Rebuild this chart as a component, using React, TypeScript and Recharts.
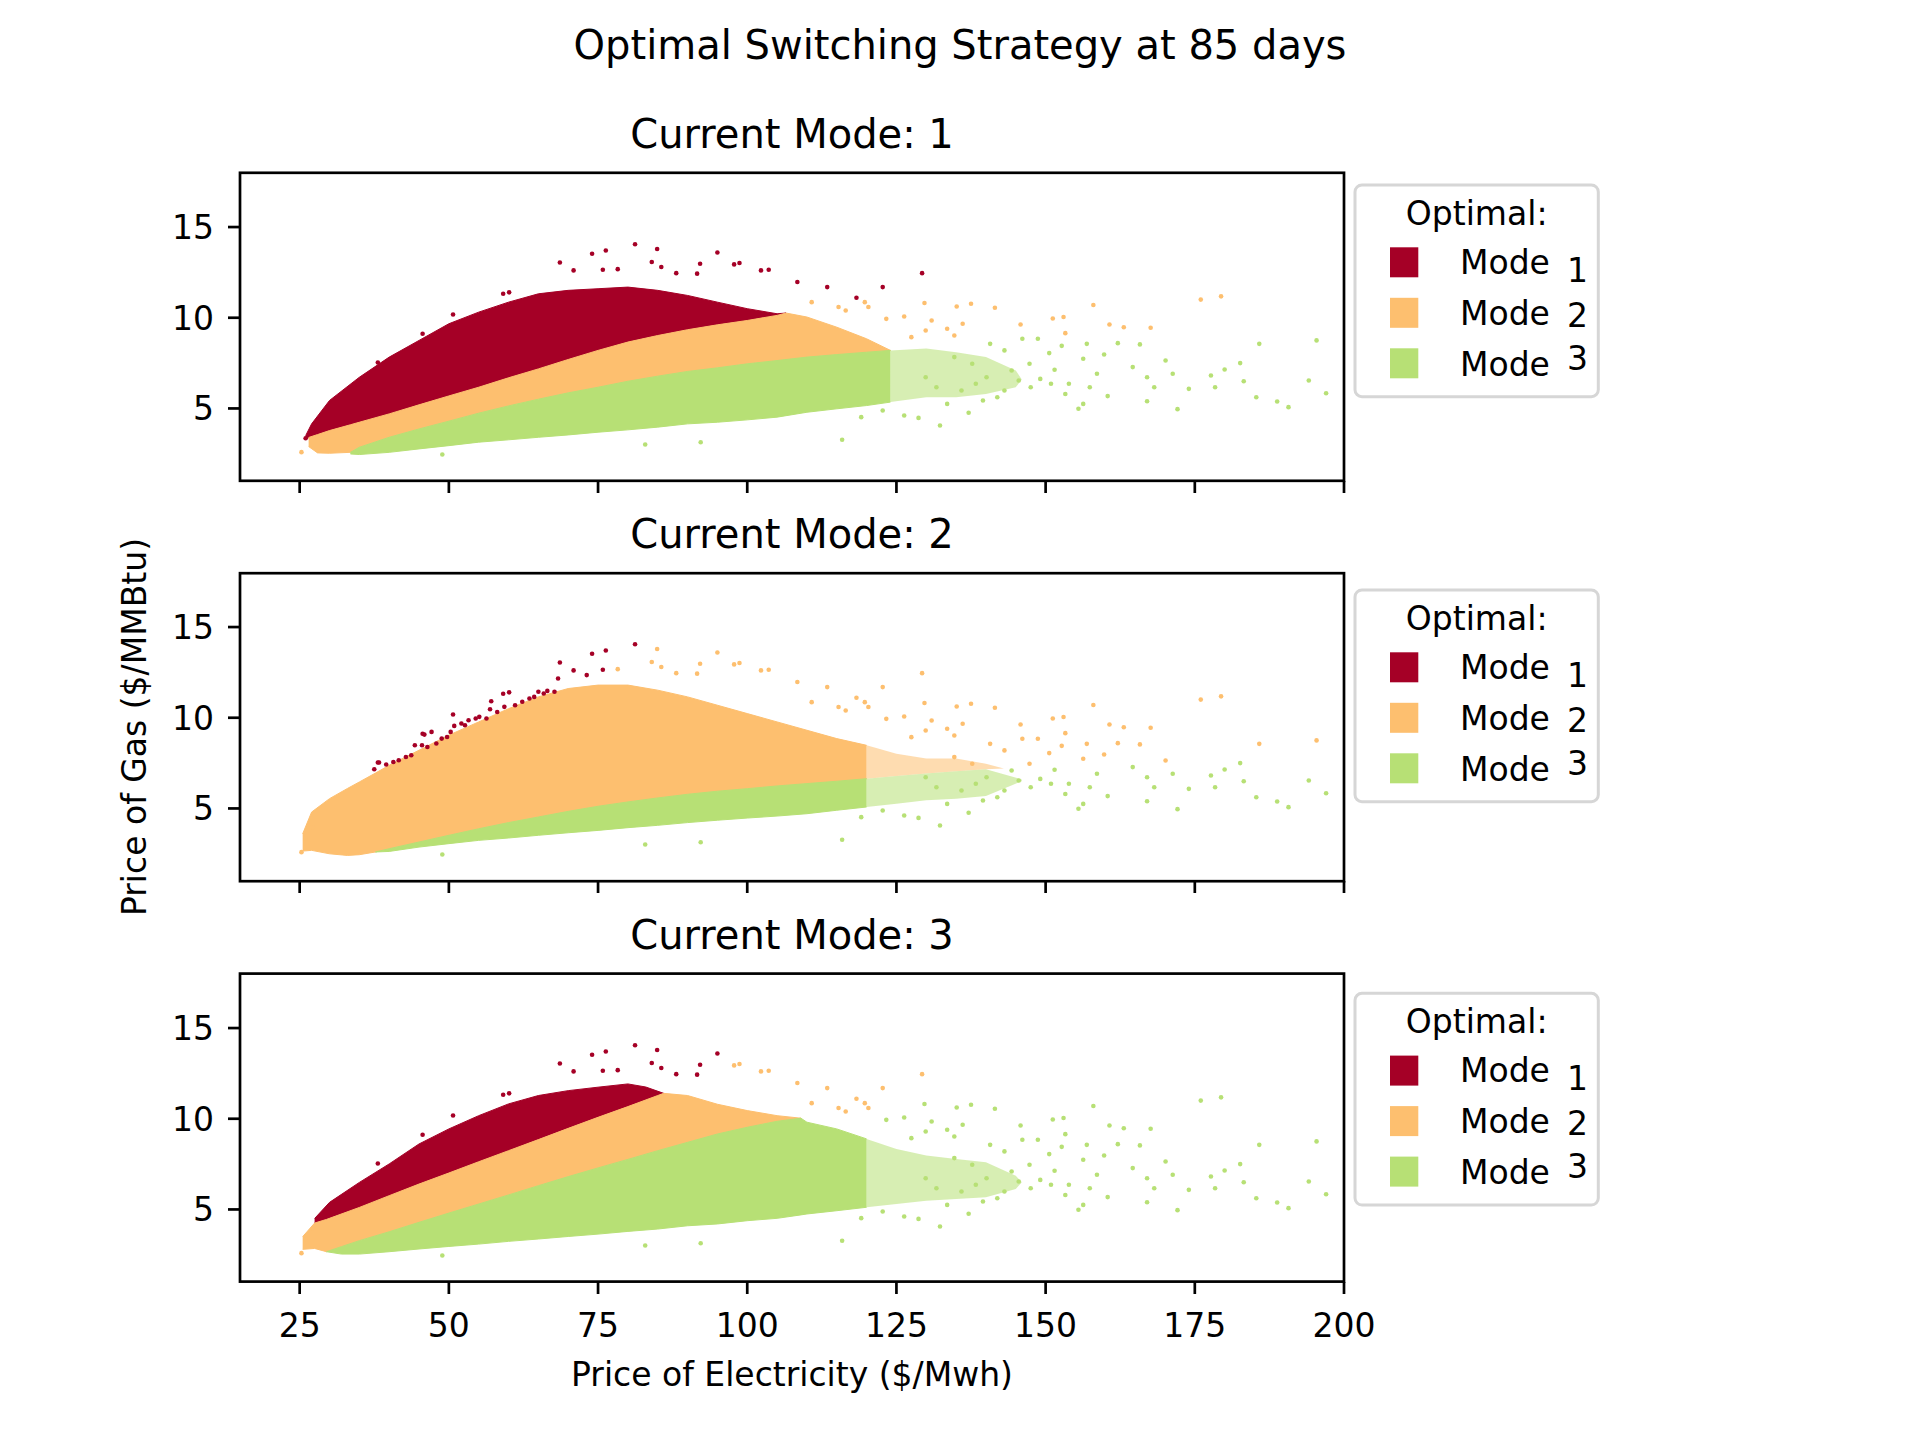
import React from 'react';
import { ComposedChart, Area, Scatter, XAxis, YAxis } from 'recharts';

const FONT = '"DejaVu Sans", "Liberation Sans", sans-serif';

// ---------- labels / ticks ----------
const SUPTITLE = 'Optimal Switching Strategy at 85 days';
const PANEL_TITLES = ['Current Mode: 1', 'Current Mode: 2', 'Current Mode: 3'];
const X_LABEL = 'Price of Electricity ($/Mwh)';
const Y_LABEL = 'Price of Gas ($/MMBtu)';
const LEGEND_TITLE = 'Optimal:';
const MODE_WORD = 'Mode';
const MODE_NUMS = ['1', '2', '3'];
const MODE_COLORS = ['#a50026', '#fdbf6f', '#b7e075'];
const X_TICKS = [25, 50, 75, 100, 125, 150, 175, 200];
const Y_TICKS = [5, 10, 15];
const X_DOMAIN = [15, 200];
const Y_DOMAIN = [1.0, 17.98];

// ---------- dense regions: [x, low, high] (price of electricity, gas low, gas high) ----------
const P1_RED = [
  [26, 3.32, 3.5], [27, 3.45, 4.15], [30, 3.78, 5.44], [35, 4.24, 6.72], [40, 4.7, 7.83],
  [45, 5.2, 8.75], [50, 5.69, 9.67], [55, 6.17, 10.31], [60, 6.69, 10.86], [65, 7.18, 11.32],
  [70, 7.7, 11.51], [75, 8.2, 11.6], [80, 8.66, 11.69], [85, 9.02, 11.51], [90, 9.34, 11.23],
  [95, 9.61, 10.86], [100, 9.85, 10.5], [105, 10.13, 10.22], [106.5, 10.26, 10.26],
];
const P1_ORANGE = [
  [26.5, 2.9, 3.4], [28, 2.55, 3.56], [30, 2.53, 3.78], [33.5, 2.58, 4.1], [35, 2.86, 4.24],
  [40, 3.41, 4.7], [45, 3.87, 5.2], [50, 4.3, 5.69], [55, 4.74, 6.17], [60, 5.14, 6.69],
  [65, 5.51, 7.18], [70, 5.86, 7.7], [75, 6.17, 8.2], [80, 6.5, 8.66], [85, 6.78, 9.02],
  [90, 7.04, 9.34], [95, 7.24, 9.61], [100, 7.46, 9.85], [105, 7.64, 10.13], [106.5, 7.7, 10.26],
  [110, 7.83, 10.04], [115, 7.97, 9.48], [120, 8.1, 8.84], [124, 8.2, 8.2],
];
const P1_GREEN = [
  [33.5, 2.49, 2.58], [35, 2.46, 2.86], [40, 2.58, 3.41], [45, 2.77, 3.87], [50, 2.95, 4.3],
  [55, 3.14, 4.74], [60, 3.27, 5.14], [65, 3.41, 5.51], [70, 3.54, 5.86], [75, 3.69, 6.17],
  [80, 3.82, 6.5], [85, 3.97, 6.78], [90, 4.15, 7.04], [95, 4.24, 7.24], [100, 4.37, 7.46],
  [105, 4.52, 7.64], [110, 4.79, 7.83], [115, 4.98, 7.97], [120, 5.16, 8.1], [124, 5.35, 8.2],
];
const P1_GREEN_TAIL = [
  [124, 5.35, 8.2], [130, 5.62, 8.3], [135, 5.62, 8.1], [140, 5.8, 7.83], [145, 6.17, 7.09], [146, 6.6, 6.6],
];

const P2_ORANGE = [
  [25.5, 2.65, 3.6], [27, 2.69, 4.8], [30, 2.5, 5.54], [33, 2.41, 6.1], [35, 2.45, 6.46],
  [37.7, 2.6, 6.95], [40, 2.78, 7.38], [45, 3.15, 8.21], [50, 3.52, 9.04], [55, 3.88, 9.77],
  [60, 4.22, 10.5], [65, 4.53, 11.15], [70, 4.84, 11.61], [75, 5.12, 11.8], [80, 5.36, 11.8],
  [85, 5.58, 11.52], [90, 5.78, 11.15], [95, 5.95, 10.69], [100, 6.09, 10.23], [105, 6.24, 9.77],
  [110, 6.37, 9.31], [115, 6.5, 8.85], [120, 6.64, 8.48],
];
const P2_ORANGE_TAIL = [
  [120, 6.64, 8.48], [125, 6.79, 8.02], [130, 6.92, 7.75], [135, 7.05, 7.75], [140, 7.16, 7.47], [143, 7.2, 7.2],
];
const P2_GREEN = [
  [37.7, 2.6, 2.6], [40, 2.63, 2.78], [45, 2.87, 3.15], [50, 3.06, 3.52], [55, 3.24, 3.88],
  [60, 3.37, 4.22], [65, 3.52, 4.53], [70, 3.66, 4.84], [75, 3.79, 5.12], [80, 3.94, 5.36],
  [85, 4.07, 5.58], [90, 4.22, 5.78], [95, 4.35, 5.95], [100, 4.47, 6.09], [105, 4.58, 6.24],
  [110, 4.71, 6.37], [115, 4.9, 6.5], [120, 5.08, 6.64],
];
const P2_GREEN_TAIL = [
  [120, 5.08, 6.64], [125, 5.26, 6.79], [130, 5.45, 6.92], [135, 5.54, 7.05], [140, 5.69, 7.16], [146, 6.5, 6.6],
];
const P2_RED_EDGE = [
  [37.5, 7.16], [38.3, 7.53], [39.5, 7.42], [40.7, 7.56], [41.6, 7.66], [42.8, 7.84], [43.7, 7.93],
  [44.3, 8.48], [45.5, 8.48], [45.9, 9.07], [46.4, 8.39], [47.1, 9.22], [47.9, 8.58], [48.8, 8.85],
  [49.7, 8.94], [50.3, 9.22], [50.9, 9.55], [52.1, 9.68], [52.7, 9.59], [53.3, 9.86], [54.5, 9.96],
  [55.1, 10.05], [56.3, 9.96], [56.9, 10.47], [57.1, 10.91], [58.1, 10.32], [59.3, 10.6], [61.1, 10.69],
  [62.3, 10.88], [63.5, 11.06], [64.3, 11.15], [65.0, 11.43], [65.9, 11.34], [66.5, 11.48], [67.7, 11.43],
  [68.3, 12.16], [73.1, 12.35],
];

const P3_RED = [
  [27.5, 4.25, 4.5], [30, 4.51, 5.39], [35, 5.11, 6.49], [40, 5.76, 7.51], [45, 6.4, 8.61],
  [50, 7.01, 9.44], [55, 7.63, 10.17], [60, 8.24, 10.82], [65, 8.85, 11.28], [70, 9.47, 11.55],
  [75, 10.08, 11.74], [80, 10.67, 11.92], [83, 11.0, 11.75], [86, 11.4, 11.4],
];
const P3_ORANGE = [
  [25.5, 2.8, 3.5], [27.5, 2.85, 4.25], [29.5, 2.67, 4.45], [30, 2.72, 4.51], [35, 3.28, 5.11],
  [40, 3.77, 5.76], [45, 4.29, 6.4], [50, 4.8, 7.01], [55, 5.3, 7.63], [60, 5.8, 8.24],
  [65, 6.31, 8.85], [70, 6.81, 9.47], [75, 7.29, 10.08], [80, 7.76, 10.67], [85, 8.24, 11.28],
  [86, 8.33, 11.4], [90, 8.7, 11.28], [95, 9.16, 10.8], [100, 9.53, 10.45], [105, 9.86, 10.17],
  [109, 10.03, 10.03],
];
const P3_GREEN = [
  [29.5, 2.67, 2.67], [32, 2.54, 2.95], [35, 2.54, 3.28], [40, 2.67, 3.77], [45, 2.82, 4.29],
  [50, 2.96, 4.8], [55, 3.09, 5.3], [60, 3.24, 5.8], [65, 3.37, 6.31], [70, 3.51, 6.81],
  [75, 3.64, 7.29], [80, 3.79, 7.76], [85, 3.92, 8.24], [90, 4.1, 8.7], [95, 4.2, 9.16],
  [100, 4.38, 9.53], [105, 4.51, 9.86], [109, 4.7, 10.03], [110, 4.75, 9.81], [115, 4.93, 9.44],
  [120, 5.12, 8.89],
];
const P3_GREEN_TAIL = [
  [120, 5.12, 8.89], [125, 5.3, 8.33], [130, 5.48, 7.97], [135, 5.57, 7.78], [140, 5.67, 7.6],
  [145, 6.13, 6.86], [146, 6.5, 6.5],
];

// ---------- sparse points shared by all panels: [x, y, optimal mode in panel 1, 2, 3] ----------
const OUTLIERS = [
  [81.2, 14.05, 1, 1, 1], [74.0, 13.53, 1, 1, 1], [76.3, 13.71, 1, 1, 1], [84.9, 13.79, 1, 2, 1],
  [95.0, 13.6, 1, 2, 1], [68.6, 13.05, 1, 1, 1], [129.3, 12.46, 1, 2, 2], [122.7, 11.69, 1, 2, 2],
  [98.7, 13.02, 1, 2, 2], [103.6, 12.65, 1, 2, 2], [102.3, 12.61, 1, 2, 2], [113.4, 11.69, 1, 2, 2],
  [118.3, 11.1, 1, 2, 2], [108.4, 11.97, 1, 2, 2], [84.0, 13.07, 1, 2, 1], [92.1, 12.98, 1, 2, 1],
  [78.3, 12.68, 1, 2, 1], [50.7, 10.18, 1, 1, 1], [60.1, 11.4, 1, 1, 1], [45.6, 9.12, 1, 1, 1],
  [38.1, 7.53, 1, 1, 1], [85.6, 12.8, 1, 2, 1], [70.9, 12.61, 1, 1, 1], [75.8, 12.65, 1, 1, 1],
  [59.1, 11.32, 1, 1, 1], [97.8, 12.94, 1, 2, 2], [88.1, 12.46, 1, 2, 1], [91.6, 12.43, 1, 2, 1],
  [27.2, 3.96, 1, 2, 2], [26.0, 3.36, 1, 2, 2],
  [179.4, 11.18, 2, 2, 3], [176.0, 11.0, 2, 2, 3], [158.0, 10.7, 2, 2, 3], [137.5, 10.77, 2, 2, 3],
  [141.5, 10.55, 2, 2, 3], [129.7, 10.81, 2, 2, 3], [135.1, 10.62, 2, 2, 3], [151.2, 9.96, 2, 2, 3],
  [153.0, 10.04, 2, 2, 3], [153.3, 9.15, 2, 2, 3], [160.7, 9.63, 2, 2, 3], [163.1, 9.48, 2, 2, 3],
  [167.6, 9.45, 2, 2, 3], [145.8, 9.63, 2, 2, 3], [136.1, 9.67, 2, 2, 3], [130.9, 9.85, 2, 2, 3],
  [126.3, 10.07, 2, 2, 3], [120.3, 10.59, 2, 2, 2], [115.3, 10.59, 2, 2, 2], [123.3, 9.94, 2, 2, 3],
  [134.7, 9.02, 2, 2, 3], [25.3, 2.59, 2, 2, 2], [129.9, 9.3, 2, 2, 3], [127.5, 8.93, 2, 2, 3],
  [119.7, 10.86, 2, 2, 2], [110.8, 10.86, 2, 2, 2], [116.5, 10.4, 2, 2, 2], [133.5, 9.39, 2, 2, 3],
  [195.4, 8.75, 3, 2, 3], [197.0, 5.84, 3, 3, 3], [194.1, 6.54, 3, 3, 3], [190.7, 5.07, 3, 3, 3],
  [188.8, 5.38, 3, 3, 3], [185.3, 5.62, 3, 3, 3], [185.8, 8.56, 3, 2, 3], [182.6, 7.5, 3, 3, 3],
  [180.0, 7.15, 3, 3, 3], [177.7, 6.82, 3, 3, 3], [178.4, 6.17, 3, 3, 3], [183.2, 6.5, 3, 3, 3],
  [172.1, 4.96, 3, 3, 3], [174.0, 6.08, 3, 3, 3], [171.3, 6.91, 3, 3, 3], [170.1, 7.64, 3, 2, 3],
  [168.2, 6.17, 3, 3, 3], [167.0, 5.4, 3, 3, 3], [165.8, 8.53, 3, 2, 3], [164.6, 7.28, 3, 3, 3],
  [162.1, 8.6, 3, 2, 3], [159.8, 7.97, 3, 2, 3], [156.9, 8.56, 3, 2, 3], [156.3, 7.74, 3, 2, 3],
  [155.5, 4.98, 3, 3, 3], [156.3, 5.25, 3, 3, 3], [160.4, 5.68, 3, 3, 3], [153.3, 5.8, 3, 3, 3],
  [152.7, 8.45, 3, 2, 3], [151.5, 7.13, 3, 3, 3], [148.7, 8.84, 3, 2, 3], [147.5, 6.17, 3, 3, 3],
  [149.1, 6.63, 3, 3, 3], [150.6, 8.05, 3, 2, 3], [158.6, 6.91, 3, 3, 3], [137.1, 4.76, 3, 3, 3],
  [132.3, 4.06, 3, 3, 3], [128.7, 4.48, 3, 3, 3], [115.9, 3.27, 3, 3, 3], [92.2, 3.14, 3, 3, 3],
  [82.9, 3.01, 3, 3, 3], [48.9, 2.46, 3, 3, 3], [144.3, 7.09, 3, 3, 3], [141.9, 5.62, 3, 3, 3],
  [140.1, 6.72, 3, 3, 3], [146.1, 8.84, 3, 2, 3], [139.5, 5.44, 3, 3, 3], [143.1, 5.99, 3, 3, 3],
  [135.9, 5.99, 3, 3, 3], [133.5, 5.25, 3, 3, 3], [134.7, 7.83, 3, 2, 3], [137.7, 7.46, 3, 2, 3],
  [129.9, 6.72, 3, 3, 3], [126.3, 4.61, 3, 3, 3], [122.7, 4.89, 3, 3, 3], [119.1, 4.52, 3, 3, 3],
  [157.4, 6.17, 3, 3, 3], [147.3, 7.46, 3, 2, 3], [140.7, 8.56, 3, 2, 3], [143.1, 8.2, 3, 2, 3],
  [150.9, 6.36, 3, 3, 3], [145.5, 6.54, 3, 3, 3], [138.3, 6.36, 3, 3, 3], [131.7, 6.17, 3, 3, 3],
  [167.0, 6.72, 3, 3, 3], [153.9, 6.36, 3, 3, 3],
];

// ---------- layout ----------
const PLOT_LEFT = 240;
const PLOT_W = 1104;
const PLOT_H = 308;
const CHART_RIGHT_MARGIN = 80;
const X_AXIS_H = 80;
const PANEL_TOPS = [172.8, 573.2, 973.6];
const LEGEND_TOPS = [185, 590, 993.3];
const TAIL_OPACITY = 0.55;

const toRows = (arr: number[][]) => arr.map(([x, lo, hi]) => ({ x, band: [lo, hi] }));
const toPts = (arr: number[][]) => arr.map(([x, y]) => ({ x, y }));

const PANELS = [
  {
    bands: [
      { rows: P1_RED, color: 0, tail: false },
      { rows: P1_ORANGE, color: 1, tail: false },
      { rows: P1_GREEN, color: 2, tail: false },
      { rows: P1_GREEN_TAIL, color: 2, tail: true },
    ],
    extra: [] as number[][],
  },
  {
    bands: [
      { rows: P2_ORANGE, color: 1, tail: false },
      { rows: P2_ORANGE_TAIL, color: 1, tail: true },
      { rows: P2_GREEN, color: 2, tail: false },
      { rows: P2_GREEN_TAIL, color: 2, tail: true },
    ],
    extra: P2_RED_EDGE,
  },
  {
    bands: [
      { rows: P3_RED, color: 0, tail: false },
      { rows: P3_ORANGE, color: 1, tail: false },
      { rows: P3_GREEN, color: 2, tail: false },
      { rows: P3_GREEN_TAIL, color: 2, tail: true },
    ],
    extra: [] as number[][],
  },
];

const XTickLabel = (props: any) => (
  <text x={props.x} y={props.y + 33} textAnchor="middle" fontSize={33} fontFamily={FONT} fill="#000">
    {props.payload.value}
  </text>
);
const EmptyTick = () => <g />;
const YTickLabel = (props: any) => (
  <text x={props.x} y={props.y + 12} textAnchor="end" fontSize={33} fontFamily={FONT} fill="#000">
    {props.payload.value}
  </text>
);

const dot = (color: string) => (props: any) => (
  <circle cx={props.cx} cy={props.cy} r={2.3} fill={color} />
);

function Panel({ index }: { index: number }) {
  const cfg = PANELS[index];
  const top = PANEL_TOPS[index];
  const groups = [0, 1, 2].map((m) => {
    const pts = OUTLIERS.filter((p) => p[2 + index] === m + 1).map((p) => ({ x: p[0], y: p[1] }));
    if (m === 0) pts.push(...toPts(cfg.extra));
    return pts;
  });
  return (
    <div style={{ position: 'absolute', left: 0, top: top - 10 }}>
      <ComposedChart
        width={PLOT_LEFT + PLOT_W + CHART_RIGHT_MARGIN}
        height={PLOT_H + 10 + X_AXIS_H}
        margin={{ top: 10, right: CHART_RIGHT_MARGIN, bottom: 0, left: 0 }}
      >
        <XAxis
          dataKey="x"
          type="number"
          domain={X_DOMAIN}
          ticks={X_TICKS}
          interval={0}
          allowDataOverflow
          axisLine={false}
          tickLine={{ stroke: '#000', strokeWidth: 2.7 }}
          tickSize={12}
          tickMargin={10}
          height={X_AXIS_H}
          tick={index === 2 ? XTickLabel : EmptyTick}
        />
        <YAxis
          dataKey="y"
          type="number"
          domain={Y_DOMAIN}
          ticks={Y_TICKS}
          interval={0}
          allowDataOverflow
          axisLine={false}
          tickLine={{ stroke: '#000', strokeWidth: 2.7 }}
          tickSize={12}
          tickMargin={14}
          width={PLOT_LEFT}
          tick={YTickLabel}
        />
        {cfg.bands.map((b, i) => (
          <Area
            key={'b' + i}
            data={toRows(b.rows)}
            dataKey="band"
            type="linear"
            fill={MODE_COLORS[b.color]}
            fillOpacity={b.tail ? TAIL_OPACITY : 1}
            stroke={b.tail ? 'none' : MODE_COLORS[b.color]}
            strokeWidth={1}
            dot={false}
            activeDot={false}
            isAnimationActive={false}
          />
        ))}
        {groups.map((pts, m) => (
          <Scatter
            key={'s' + m}
            data={pts}
            dataKey="y"
            fill={MODE_COLORS[m]}
            shape={dot(MODE_COLORS[m])}
            isAnimationActive={false}
          />
        ))}
      </ComposedChart>
    </div>
  );
}

const DIGIT_BASELINES = [96.7, 141.7, 185];

function LegendBox({ top }: { top: number }) {
  return (
    <g>
      <rect x={1355} y={top} width={243.3} height={211.7} rx={7} ry={7} fill="#fff" stroke="#d6d6d6" strokeWidth={3} />
      <text x={1476.7} y={top + 40} textAnchor="middle" fontSize={33} fontFamily={FONT} fill="#000">
        {LEGEND_TITLE}
      </text>
      {MODE_COLORS.map((c, i) => (
        <g key={i}>
          <rect x={1390} y={top + 62.3 + 50.5 * i} width={28.3} height={30} fill={c} />
          <text x={1460} y={top + 89 + 51 * i} fontSize={33} fontFamily={FONT} fill="#000">
            {MODE_WORD}
          </text>
          <text x={1567} y={top + DIGIT_BASELINES[i]} fontSize={33} fontFamily={FONT} fill="#000">
            {MODE_NUMS[i]}
          </text>
        </g>
      ))}
    </g>
  );
}

export default function App() {
  return (
    <div style={{ position: 'absolute', left: 0, top: 0, width: 1920, height: 1440, background: '#fff', overflow: 'hidden' }}>
      {PANELS.map((_, i) => (
        <Panel key={i} index={i} />
      ))}
      <svg width={1920} height={1440} style={{ position: 'absolute', left: 0, top: 0, pointerEvents: 'none' }}>
        <text x={960} y={59} textAnchor="middle" fontSize={40} fontFamily={FONT} fill="#000">
          {SUPTITLE}
        </text>
        {PANEL_TOPS.map((t, i) => (
          <g key={i}>
            <text x={PLOT_LEFT + PLOT_W / 2} y={t - 25} textAnchor="middle" fontSize={40} fontFamily={FONT} fill="#000">
              {PANEL_TITLES[i]}
            </text>
            <rect x={PLOT_LEFT} y={t} width={PLOT_W} height={PLOT_H} fill="none" stroke="#000" strokeWidth={2.7} />
            <LegendBox top={LEGEND_TOPS[i]} />
          </g>
        ))}
        <text x={PLOT_LEFT + PLOT_W / 2} y={1386} textAnchor="middle" fontSize={33} fontFamily={FONT} fill="#000">
          {X_LABEL}
        </text>
        <text
          x={0}
          y={0}
          transform="translate(134 727) rotate(-90)"
          textAnchor="middle"
          dominantBaseline="central"
          fontSize={33}
          fontFamily={FONT}
          fill="#000"
        >
          {Y_LABEL}
        </text>
      </svg>
    </div>
  );
}
